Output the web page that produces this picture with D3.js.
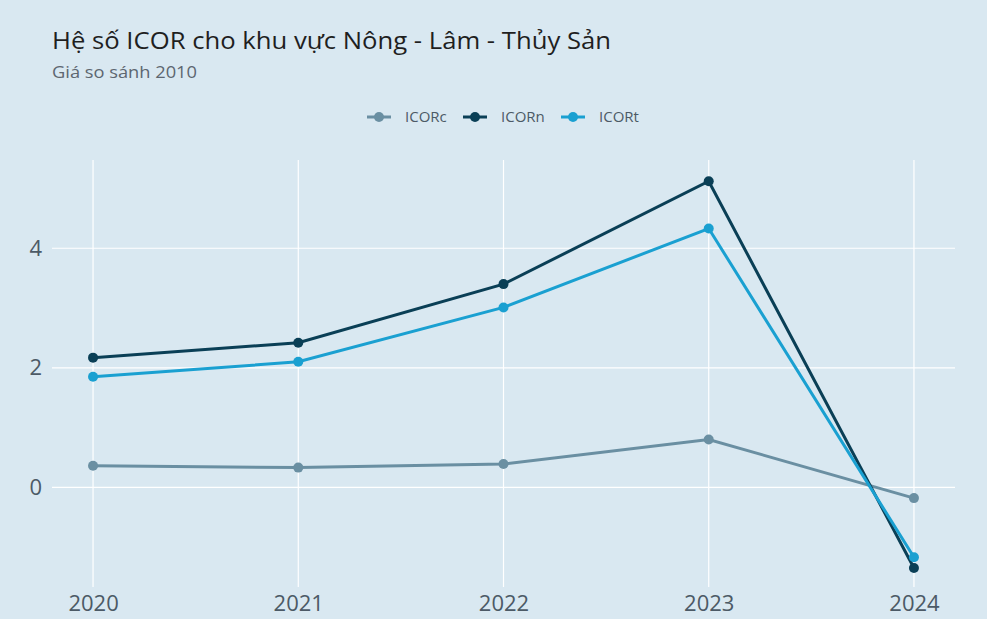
<!DOCTYPE html>
<html>
<head>
<meta charset="utf-8">
<script src="https://cdn.jsdelivr.net/npm/d3@7"></script>
<style>
  body { margin: 0; background: #d9e8f1; }
  svg { display: block; font-family: "Open Sans", "Noto Sans", sans-serif; }
</style>
</head>
<body>
<div id="chart"></div>
<script>
// ---- data ----
var years = [2020, 2021, 2022, 2023, 2024];
var icorC = [0.36, 0.33, 0.39, 0.80, -0.18];
var icorN = [2.17, 2.42, 3.40, 5.12, -1.35];
var icorT = [1.85, 2.10, 3.01, 4.33, -1.17];
var seriesNames = ["ICORc", "ICORn", "ICORt"];
var yTicks = [0, 2, 4];

var svgWidth = 987;
var svgHeight = 619;
var margin = { top: 160, right: 32, bottom: 32, left: 52 };
var width = svgWidth - margin.left - margin.right;
var height = svgHeight - margin.top - margin.bottom;

var colors = { ICORc: "#6a8fa2", ICORn: "#0a3f56", ICORt: "#1aa0d1" };
var seriesData = { ICORc: icorC, ICORn: icorN, ICORt: icorT };

var svg = d3.select("#chart").append("svg")
  .attr("width", svgWidth)
  .attr("height", svgHeight);

svg.append("rect")
  .attr("width", svgWidth)
  .attr("height", svgHeight)
  .attr("fill", "#d9e8f1");

// title + subtitle
svg.append("text")
  .attr("x", 52).attr("y", 49)
  .attr("font-size", 24)
  .attr("textLength", 559)
  .attr("lengthAdjust", "spacingAndGlyphs")
  .attr("fill", "#1f1f1f")
  .text("Hệ số ICOR cho khu vực Nông - Lâm - Thủy Sản");

svg.append("text")
  .attr("x", 52).attr("y", 78)
  .attr("font-size", 16)
  .attr("textLength", 145)
  .attr("lengthAdjust", "spacingAndGlyphs")
  .attr("fill", "#5d6670")
  .text("Giá so sánh 2010");

var chartGroup = svg.append("g")
  .attr("transform", `translate(${margin.left}, ${margin.top})`);

var x = d3.scaleLinear().domain([2019.8, 2024.2]).range([0, width]);
var y = d3.scaleLinear().domain([-1.667, 5.476]).range([height, 0]);

// grid lines
chartGroup.selectAll(".ygrid")
  .data(yTicks)
  .enter().append("line")
  .attr("x1", 0).attr("x2", width)
  .attr("y1", d => y(d)).attr("y2", d => y(d))
  .attr("stroke", "#ffffff").attr("stroke-width", 1.2);

chartGroup.selectAll(".xgrid")
  .data(years)
  .enter().append("line")
  .attr("x1", d => x(d)).attr("x2", d => x(d))
  .attr("y1", 0).attr("y2", height)
  .attr("stroke", "#ffffff").attr("stroke-width", 1.2);

// axes (labels only)
var bottomAxis = d3.axisBottom(x).tickValues(years).tickFormat(d3.format("d")).tickSize(0).tickPadding(8);
var leftAxis = d3.axisLeft(y).tickValues(yTicks).tickSize(0).tickPadding(10);

var xAxis = chartGroup.append("g")
  .attr("transform", `translate(0, ${height})`)
  .call(bottomAxis);
var yAxis = chartGroup.append("g").call(leftAxis);

[xAxis, yAxis].forEach(function(a) {
  a.select(".domain").remove();
  a.selectAll("text")
    .attr("font-size", 22)
    .attr("font-family", "'Open Sans', 'Noto Sans', sans-serif")
    .attr("fill", "#4c5a66");
});

// lines + markers
var line = d3.line()
  .x((d, i) => x(years[i]))
  .y(d => y(d));

seriesNames.forEach(function(name) {
  var vals = seriesData[name];
  chartGroup.append("path")
    .datum(vals)
    .attr("fill", "none")
    .attr("stroke", colors[name])
    .attr("stroke-width", 3)
    .attr("d", line);

  chartGroup.selectAll(".pt-" + name)
    .data(vals)
    .enter().append("circle")
    .attr("cx", (d, i) => x(years[i]))
    .attr("cy", d => y(d))
    .attr("r", 5)
    .attr("fill", colors[name]);
});

// legend
var legend = svg.append("g").attr("transform", "translate(367, 117)");
var legendX = [0, 96, 194];
seriesNames.forEach(function(name, i) {
  var g = legend.append("g").attr("transform", `translate(${legendX[i]}, 0)`);
  g.append("line")
    .attr("x1", 0).attr("x2", 24)
    .attr("stroke", colors[name]).attr("stroke-width", 3);
  g.append("circle")
    .attr("cx", 12).attr("r", 5)
    .attr("fill", colors[name]);
  g.append("text")
    .attr("x", 38).attr("y", 5)
    .attr("font-size", 15)
    .attr("fill", "#4c5a66")
    .text(name);
});
</script>
</body>
</html>
